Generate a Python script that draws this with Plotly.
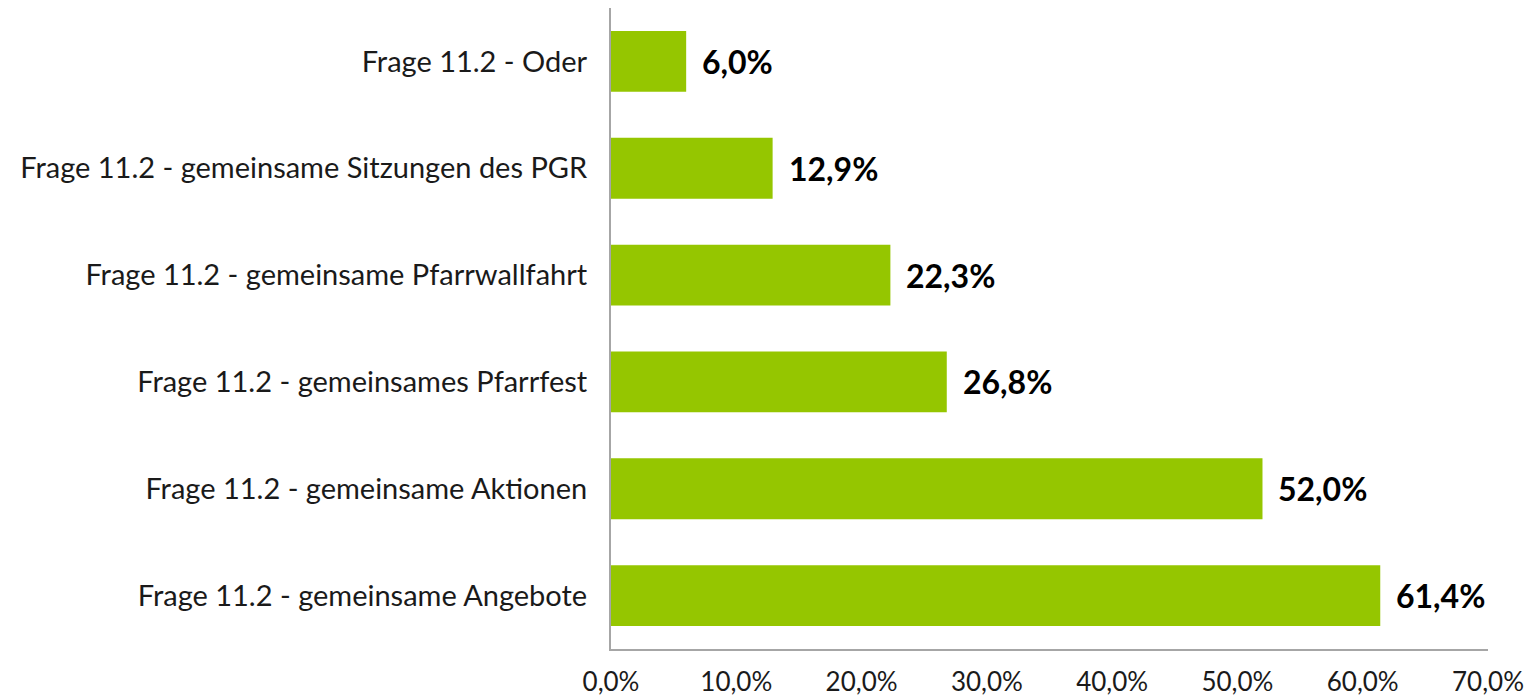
import plotly.graph_objects as go

categories = [
    "Frage 11.2 - gemeinsame Angebote",
    "Frage 11.2 - gemeinsame Aktionen",
    "Frage 11.2 - gemeinsames Pfarrfest",
    "Frage 11.2 - gemeinsame Pfarrwallfahrt",
    "Frage 11.2 - gemeinsame Sitzungen des PGR",
    "Frage 11.2 - Oder",
]
values = [61.4, 52.0, 26.8, 22.3, 12.9, 6.0]
tick_vals = [0, 10, 20, 30, 40, 50, 60, 70]
tick_text = ["0,0%", "10,0%", "20,0%", "30,0%", "40,0%", "50,0%", "60,0%", "70,0%"]

FONT = "Lato, 'Open Sans', sans-serif"

fig = go.Figure(go.Bar(
    x=values, y=categories, orientation="h",
    marker=dict(color="#95C600", line=dict(width=0)),
    width=0.57,
))

for v, c in zip(values, categories):
    fig.add_annotation(
        x=v, y=c, text="<b>" + f"{v:.1f}%".replace(".", ",") + "</b>",
        xanchor="left", yanchor="middle", xshift=14, showarrow=False,
        font=dict(family=FONT, size=32, color="#000000"),
    )

fig.update_layout(
    width=1538, height=697,
    margin=dict(l=611, r=50, t=8, b=48, autoexpand=False),
    plot_bgcolor="white", paper_bgcolor="white",
    showlegend=False,
    font=dict(family=FONT, color="#1a1a1a"),
    xaxis=dict(
        range=[0, 70], tickvals=tick_vals, ticktext=tick_text,
        showgrid=False, zeroline=False, automargin=False,
        showline=True, linecolor="#A6A6A6", linewidth=2,
        ticks="", tickfont=dict(size=26, family=FONT, color="#1a1a1a"),
        ticklabelstandoff=9,
    ),
    yaxis=dict(
        range=[-0.5, 5.5], automargin=False,
        showgrid=False, zeroline=False,
        showline=True, linecolor="#A6A6A6", linewidth=2,
        ticks="", tickfont=dict(size=29, family=FONT, color="#1a1a1a"),
        ticklabelstandoff=16,
    ),
)

fig.write_html("out.html", config={"displayModeBar": False},
               post_script="document.body.style.margin='0';")
